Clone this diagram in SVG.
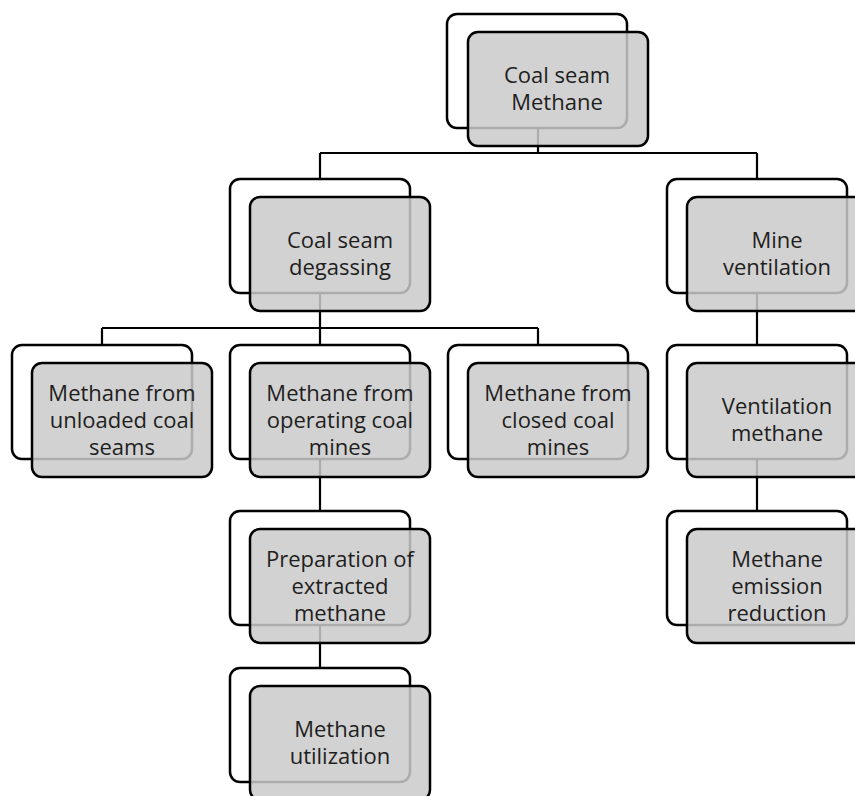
<svg xmlns="http://www.w3.org/2000/svg" width="855" height="796" viewBox="0 0 855 796">
<style>
.bk{fill:#ffffff;stroke:#000;stroke-width:2.5}
.fr{fill:#cacaca;fill-opacity:0.85;stroke:#000;stroke-width:2.5}
.ln{fill:none;stroke:#000;stroke-width:2.2}
text{font-family:"Open Sans","Liberation Sans",sans-serif;font-size:22px;fill:#1e1e1e;text-anchor:middle}
</style>
<rect width="855" height="796" fill="#fff"/>
<g id="connectors">
<path class="ln" d="M538 128V153M320 153H757M320 153V179M757 153V179"/>
<path class="ln" d="M320 293V328M102 328H538M102 328V345M320 328V345M538 328V345"/>
<path class="ln" d="M757 293V345"/>
<path class="ln" d="M320 459V511M320 625V668M757 459V511"/>
</g>
<g id="n-root" transform="translate(447,14)">
<rect class="bk" x="0" y="0" width="180" height="114" rx="10"/>
<rect class="fr" x="21" y="18" width="180" height="114" rx="10"/>
<text x="110" y="69">Coal seam</text><text x="110" y="96">Methane</text>
</g>
<g id="n-degassing" transform="translate(230,179)">
<rect class="bk" x="0" y="0" width="180" height="114" rx="10"/>
<rect class="fr" x="20" y="18" width="180" height="114" rx="10"/>
<text x="110" y="69">Coal seam</text><text x="110" y="96">degassing</text>
</g>
<g id="n-ventilation" transform="translate(667,179)">
<rect class="bk" x="0" y="0" width="180" height="114" rx="10"/>
<rect class="fr" x="20" y="18" width="180" height="114" rx="10"/>
<text x="110" y="69">Mine</text><text x="110" y="96">ventilation</text>
</g>
<g id="n-unloaded" transform="translate(12,345)">
<rect class="bk" x="0" y="0" width="180" height="114" rx="10"/>
<rect class="fr" x="20" y="18" width="180" height="114" rx="10"/>
<text x="110" y="55.5">Methane from</text><text x="110" y="82.5">unloaded coal</text><text x="110" y="109.5">seams</text>
</g>
<g id="n-operating" transform="translate(230,345)">
<rect class="bk" x="0" y="0" width="180" height="114" rx="10"/>
<rect class="fr" x="20" y="18" width="180" height="114" rx="10"/>
<text x="110" y="55.5">Methane from</text><text x="110" y="82.5">operating coal</text><text x="110" y="109.5">mines</text>
</g>
<g id="n-closed" transform="translate(448,345)">
<rect class="bk" x="0" y="0" width="180" height="114" rx="10"/>
<rect class="fr" x="20" y="18" width="180" height="114" rx="10"/>
<text x="110" y="55.5">Methane from</text><text x="110" y="82.5">closed coal</text><text x="110" y="109.5">mines</text>
</g>
<g id="n-ventmethane" transform="translate(667,345)">
<rect class="bk" x="0" y="0" width="180" height="114" rx="10"/>
<rect class="fr" x="20" y="18" width="180" height="114" rx="10"/>
<text x="110" y="69">Ventilation</text><text x="110" y="96">methane</text>
</g>
<g id="n-preparation" transform="translate(230,511)">
<rect class="bk" x="0" y="0" width="180" height="114" rx="10"/>
<rect class="fr" x="20" y="18" width="180" height="114" rx="10"/>
<text x="110" y="55.5">Preparation of</text><text x="110" y="82.5">extracted</text><text x="110" y="109.5">methane</text>
</g>
<g id="n-emission" transform="translate(667,511)">
<rect class="bk" x="0" y="0" width="180" height="114" rx="10"/>
<rect class="fr" x="20" y="18" width="180" height="114" rx="10"/>
<text x="110" y="55.5">Methane</text><text x="110" y="82.5">emission</text><text x="110" y="109.5">reduction</text>
</g>
<g id="n-utilization" transform="translate(230,668)">
<rect class="bk" x="0" y="0" width="180" height="114" rx="10"/>
<rect class="fr" x="20" y="18" width="180" height="114" rx="10"/>
<text x="110" y="69">Methane</text><text x="110" y="96">utilization</text>
</g>
</svg>
